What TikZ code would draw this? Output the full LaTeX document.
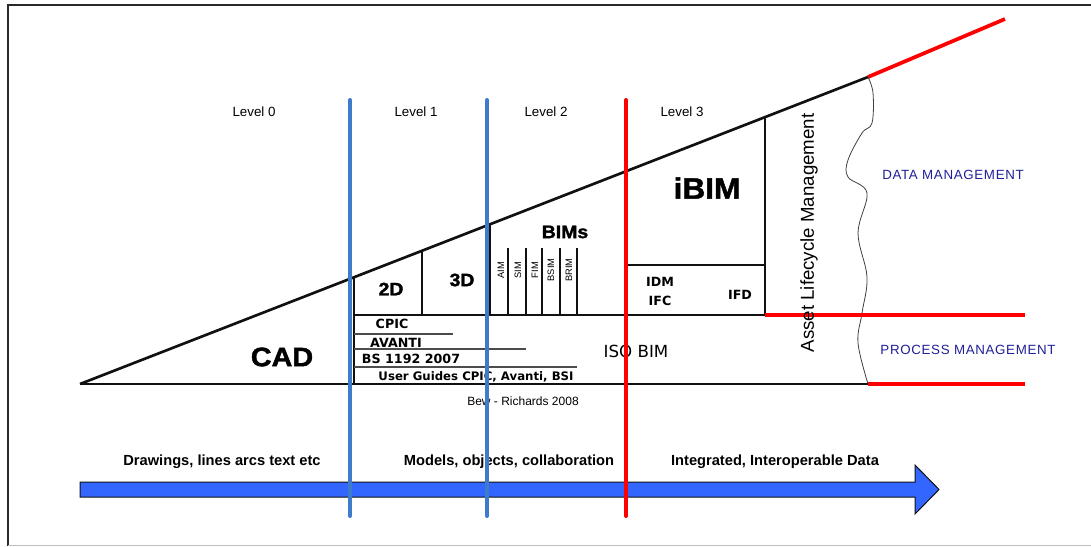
\documentclass[tikz,border=0pt]{standalone}
\usepackage{fontspec}
\setmainfont{Liberation Sans}
\newfontfamily\verdana{DejaVu Sans}
\newfontfamily\spaced[LetterSpace=5]{Liberation Sans}
\newfontfamily\heavy[FakeBold=1.6,FakeStretch=1.08]{Liberation Sans Bold}
\usetikzlibrary{calc}
\definecolor{levelblue}{HTML}{3F7BCB}
\definecolor{levelred}{HTML}{FF0000}
\definecolor{arrowblue}{HTML}{3366FF}
\definecolor{mgmtnavy}{HTML}{1F1F99}
\definecolor{ink}{HTML}{111111}
\tikzset{
  pageframe/.style={draw=ink!90,line width=2.2pt},
  outline/.style={draw=ink,line width=2pt},
  divider/.style={draw=ink,line width=1.5pt},
  thinrule/.style={draw=ink,line width=1pt},
  underrule/.style={draw=black!70,line width=.9pt},
  levelline/.style={line width=3pt,line cap=round},
  redline/.style={draw=levelred,line width=2.8pt},
  wave/.style={draw=black!75,line width=.6pt},
  levellabel/.style={inner sep=0pt,font=\fontsize{10}{12}\selectfont},
  bigtag/.style={inner sep=0pt,font=\heavy\fontsize{20}{24}\selectfont},
  midtag/.style={inner sep=0pt,font=\heavy\fontsize{13.5}{16}\selectfont},
  simtag/.style={inner sep=0pt,rotate=90,font=\fontsize{7}{8}\selectfont},
  standard/.style={inner sep=0pt,font=\verdana\bfseries\fontsize{9.5}{11}\selectfont},
  mgmt/.style={inner sep=0pt,text=mgmtnavy,font=\spaced\fontsize{10}{12}\selectfont},
  eralabel/.style={inner sep=0pt,font=\bfseries\fontsize{11}{13}\selectfont},
}

\begin{document}
\begin{tikzpicture}[x=.75pt,y=-.75pt]
\useasboundingbox (0,0) rectangle (1091,546);
% page frame
\draw[pageframe] (8,546) -- (8,5) -- (1091,5);
\draw[draw=black!25,line width=.75pt] (8,545) -- (1091,545);
% the wedge
\coordinate (apex) at (80,384);
\coordinate (peak) at (868,77);
\coordinate (base) at (868,384);
\draw[outline] (apex) -- (peak);
\draw[outline] (apex) -- (base);
\draw[redline] (peak) -- (1005,19);
\draw[redline] (base) -- (1025,384);
\draw[wave] plot[smooth,tension=.6] coordinates {(868,77) (873,93) (872,123) (862,133) (848,160) (848,177) (867,193) (858,233) (867,277) (862,313) (858,343) (868,384)};
% boxes inside the wedge
\draw[divider] (354,277.3) -- (354,384);
\draw[divider] (422,250.8) -- (422,315);
\draw[divider] (490,224.3) -- (490,315);
\draw[divider] (626,171.3) -- (626,384);
\draw[divider] (765,117.1) -- (765,315);
\draw[divider] (354,315) -- (765,315);
\draw[divider] (626,265) -- (765,265);
\draw[redline] (765,315) -- (1025,315);
\foreach \x in {508,526,542,560,577}
  \draw[thinrule] (\x,248) -- (\x,315);
\draw[underrule] (354,334) -- (453,334);
\draw[underrule] (354,349) -- (526,349);
\draw[underrule] (354,367) -- (577,367);
% labels
\node[levellabel] (lvl0) at (254,112) {Level 0};
\node[levellabel] (lvl1) at (416,112) {Level 1};
\node[levellabel] (lvl2) at (546,112) {Level 2};
\node[levellabel] (lvl3) at (682,112) {Level 3};
\node[bigtag] (cad) at (282,357) {CAD};
\node[bigtag,font=\heavy\fontsize{22}{26}\selectfont] (ibim) at (707,188) {iBIM};
\node[midtag] (twod) at (391,289) {2D};
\node[midtag] (threed) at (462,280) {3D};
\node[midtag] (bims) at (565,232) {BIMs};
\node[simtag] (aim) at (501,270) {AIM};
\node[simtag] (sim) at (518,270) {SIM};
\node[simtag] (fim) at (535,270) {FIM};
\node[simtag] (bsim) at (551,270) {BSIM};
\node[simtag] (brim) at (569,270) {BRIM};
\node[standard] (cpic) at (392,324) {CPIC};
\node[standard] (avanti) at (396,343) {AVANTI};
\node[standard] (bs) at (411,359) {BS 1192 2007};
\node[standard,font=\verdana\bfseries\fontsize{8.8}{10}\selectfont] (guides) at (476,377) {User Guides CPIC, Avanti, BSI};
\node[inner sep=0pt,font=\verdana\fontsize{12.5}{14}\selectfont] (isobim) at (636,351) {ISO BIM};
\node[standard] (idm) at (660,282) {IDM};
\node[standard] (ifc) at (660,301) {IFC};
\node[standard] (ifd) at (740,295) {IFD};
\node[inner sep=0pt,rotate=90,font=\fontsize{14}{16}\selectfont] (alm) at (809,233) {Asset Lifecycle Management};
\node[levellabel,font=\fontsize{9}{11}\selectfont] (credit) at (523,401) {Bew - Richards 2008};
\node[mgmt] (datamgmt) at (953,175) {DATA MANAGEMENT};
\node[mgmt] (procmgmt) at (968,350) {PROCESS MANAGEMENT};
% timeline arrow
\draw[fill=arrowblue,draw=ink,line width=.75pt] (80,482) -- (915,482) -- (915,465) -- (939,489.5) -- (915,514) -- (915,497) -- (80,497) -- cycle;
\node[eralabel] (drawings) at (222,462) {Drawings,\ lines arcs text etc};
\node[eralabel] (models) at (509,462) {Models, objects,\ collaboration};
\node[eralabel] (integrated) at (775,462) {Integrated,\ Interoperable Data};
% level boundaries
\draw[levelline,draw=levelblue] (350,100) -- (350,516);
\draw[levelline,draw=levelblue] (487,100) -- (487,516);
\draw[levelline,draw=levelred] (626,100) -- (626,516);
\end{tikzpicture}
\end{document}
